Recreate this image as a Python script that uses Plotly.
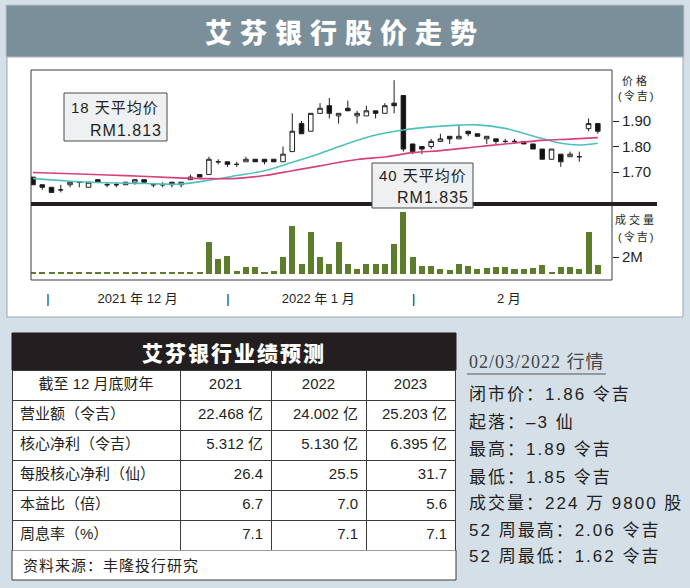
import plotly.graph_objects as go

W, H = 690, 588
FONT = "Liberation Sans, Noto Sans CJK SC, sans-serif"
CJK = "Noto Sans CJK SC, Liberation Sans, sans-serif"

# daily candles (62 trading days up to 02/03/2022)
opens = [1.68, 1.65, 1.64, 1.63, 1.65, 1.66, 1.64, 1.67, 1.65, 1.65,
         1.65, 1.66, 1.67, 1.65, 1.65, 1.66, 1.65, 1.67, 1.69, 1.69,
         1.74, 1.74, 1.73, 1.74, 1.75, 1.75, 1.75, 1.74, 1.78, 1.89,
         1.86, 1.93, 1.96, 1.92, 1.95, 1.92, 1.92, 1.94, 1.93, 1.97,
         2.00, 1.81, 1.80, 1.80, 1.82, 1.84, 1.83, 1.86, 1.85, 1.83,
         1.83, 1.82, 1.82, 1.82, 1.81, 1.79, 1.75, 1.77, 1.76, 1.76,
         1.87, 1.89]
highs = [1.68, 1.65, 1.64, 1.65, 1.66, 1.66, 1.66, 1.67, 1.66, 1.66,
         1.66, 1.67, 1.67, 1.65, 1.66, 1.66, 1.66, 1.69, 1.69, 1.76,
         1.75, 1.74, 1.74, 1.76, 1.75, 1.75, 1.75, 1.80, 1.93, 1.90,
         1.93, 1.97, 1.99, 1.93, 1.98, 1.94, 1.96, 1.94, 1.97, 2.06,
         2.00, 1.81, 1.80, 1.83, 1.85, 1.84, 1.88, 1.86, 1.85, 1.84,
         1.83, 1.83, 1.83, 1.82, 1.81, 1.79, 1.79, 1.77, 1.78, 1.78,
         1.91, 1.89]
lows = [1.65, 1.63, 1.62, 1.62, 1.64, 1.64, 1.64, 1.66, 1.64, 1.64,
        1.65, 1.65, 1.66, 1.64, 1.64, 1.64, 1.64, 1.67, 1.68, 1.69,
        1.73, 1.72, 1.72, 1.74, 1.74, 1.73, 1.74, 1.74, 1.78, 1.85,
        1.86, 1.93, 1.91, 1.89, 1.94, 1.89, 1.92, 1.91, 1.93, 1.93,
        1.78, 1.77, 1.77, 1.79, 1.82, 1.81, 1.83, 1.84, 1.84, 1.81,
        1.81, 1.81, 1.81, 1.81, 1.79, 1.75, 1.75, 1.72, 1.76, 1.74,
        1.86, 1.85]
closes = [1.65, 1.64, 1.62, 1.63, 1.66, 1.66, 1.66, 1.66, 1.65, 1.65,
          1.66, 1.67, 1.66, 1.65, 1.65, 1.65, 1.66, 1.68, 1.68, 1.75,
          1.74, 1.73, 1.73, 1.75, 1.74, 1.74, 1.74, 1.77, 1.86, 1.85,
          1.93, 1.95, 1.93, 1.93, 1.94, 1.93, 1.94, 1.93, 1.96, 1.96,
          1.79, 1.78, 1.79, 1.82, 1.83, 1.83, 1.84, 1.85, 1.84, 1.84,
          1.82, 1.82, 1.82, 1.81, 1.79, 1.75, 1.79, 1.74, 1.77, 1.76,
          1.89, 1.86]
# volume, millions of shares
volume = [0.18, 0.18, 0.18, 0.12, 0.24, 0.18, 0.18, 0.12, 0.18, 0.12,
          0.29, 0.18, 0.18, 0.12, 0.18, 0.29, 0.18, 0.18, 0.18, 3.73,
          1.76, 2.08, 0.32, 0.86, 0.79, 0.20, 0.32, 2.03, 5.65, 1.18,
          4.94, 1.96, 1.18, 3.73, 1.14, 0.55, 1.18, 1.18, 1.18, 3.49,
          7.29, 1.96, 0.94, 0.94, 0.55, 0.44, 1.14, 0.94, 0.55, 0.74,
          0.86, 0.86, 0.59, 0.59, 0.67, 1.02, 0.27, 0.79, 0.79, 0.55,
          4.90, 1.02]
days = list(range(len(closes)))

# moving averages
ma18_days = [0, 4, 8, 12, 16, 19, 22, 25, 28, 31, 34, 37, 40, 43, 46, 48, 51, 54, 57, 59, 61]
ma18 = [1.675, 1.664, 1.658, 1.655, 1.653, 1.668, 1.686, 1.705, 1.738, 1.773, 1.812,
        1.845, 1.865, 1.877, 1.884, 1.885, 1.871, 1.841, 1.813, 1.806, 1.813]
ma40_days = [0, 5, 10, 15, 19, 22, 25, 28, 31, 35, 38, 41, 44, 48, 51, 55, 58, 61]
ma40 = [1.698, 1.692, 1.686, 1.678, 1.674, 1.675, 1.686, 1.705, 1.724, 1.749, 1.759,
        1.776, 1.784, 1.799, 1.810, 1.824, 1.829, 1.835]

price_ticks = [1.70, 1.80, 1.90]
month_pos = [1.6, 11.3, 21.06, 30.8, 41.1, 51.4]
month_text = ["|", "2021 年 12 月", "|", "2022 年 1 月", "|", "2 月"]

# forecast table
years = ["2021", "2022", "2023"]
metrics = ["营业额（令吉）", "核心净利（令吉）", "每股核心净利（仙）", "本益比（倍）", "周息率（%）"]
fy2021 = ["22.468 亿", "5.312 亿", "26.4", "6.7", "7.1"]
fy2022 = ["24.002 亿", "5.130 亿", "25.5", "7.0", "7.1"]
fy2023 = ["25.203 亿", "6.395 亿", "31.7", "5.6", "7.1"]

quote_lines = ["闭市价：1.86 令吉", "起落：–3 仙", "最高：1.89 令吉", "最低：1.85 令吉",
               "成交量：224 万 9800 股", "52 周最高：2.06 令吉", "52 周最低：1.62 令吉"]


def px(x):
    return x / W


def py(y):
    return 1 - y / H


def rect(x0, y0, x1, y1, fill="rgba(0,0,0,0)", line="rgba(0,0,0,0)", lw=1, layer="below"):
    return dict(type="rect", xref="paper", yref="paper", x0=px(x0), x1=px(x1), y0=py(y1), y1=py(y0),
                fillcolor=fill, line=dict(color=line, width=lw), layer=layer)


def note(x, y, text, size=15, xa="left", color="#231f20", family=FONT, weight="normal"):
    return dict(x=px(x), y=py(y), xref="paper", yref="paper", text=text, showarrow=False,
                xanchor=xa, yanchor="middle",
                font=dict(size=size, color=color, family=family, weight=weight))


def spaced(t, sp):
    return f"<span style='letter-spacing:{sp}px'>{t}</span>"


fig = go.Figure()
fig.add_trace(go.Candlestick(
    x=days, open=opens, high=highs, low=lows, close=closes,
    increasing=dict(line=dict(color="#231f20", width=1), fillcolor="#ffffff"),
    decreasing=dict(line=dict(color="#231f20", width=1), fillcolor="#111111"),
    xaxis="x", yaxis="y", showlegend=False, hoverinfo="skip",
))
fig.add_trace(go.Scatter(x=ma18_days, y=ma18, mode="lines", line=dict(color="#4fc0c0", width=1.6, shape="spline"),
                         xaxis="x", yaxis="y", showlegend=False))
fig.add_trace(go.Scatter(x=ma40_days, y=ma40, mode="lines", line=dict(color="#d8407b", width=1.6, shape="spline"),
                         xaxis="x", yaxis="y", showlegend=False))
fig.add_trace(go.Bar(x=days, y=volume, width=0.65, marker=dict(color="#5c7e2c", line=dict(width=0)),
                     xaxis="x2", yaxis="y2", showlegend=False))

fig.add_trace(go.Table(
    domain=dict(x=[px(12), px(456)], y=[py(551), py(370)]),
    columnwidth=[168, 91, 95, 89],
    header=dict(values=["截至 12 月底财年"] + years, align="center", height=30,
                fill_color="#ffffff", line=dict(color="#3a3a3a", width=1),
                font=dict(size=15, color="#231f20", family=FONT)),
    cells=dict(values=[metrics, fy2021, fy2022, fy2023], align=["left", "right", "right", "right"], height=30,
               fill_color="#ffffff", line=dict(color="#3a3a3a", width=1),
               font=dict(size=15, color="#231f20", family=FONT)),
))

xr = [-0.216, 62.53]
fig.update_layout(
    width=W, height=H, margin=dict(l=0, r=0, t=0, b=0),
    paper_bgcolor="#d4dfe8", plot_bgcolor="rgba(0,0,0,0)",
    font=dict(family=FONT, color="#231f20"), bargap=0,
    xaxis=dict(domain=[px(31), px(612)], range=xr, anchor="y", showticklabels=False, showgrid=False,
               zeroline=False, rangeslider=dict(visible=False), ticks=""),
    yaxis=dict(domain=[py(202), py(70)], range=[1.5824, 2.10], anchor="x", side="right",
               tickvals=price_ticks, ticktext=[f"{v:.2f}" for v in price_ticks],
               ticks="outside", ticklen=6, tickcolor="#231f20", showgrid=False, zeroline=False,
               tickfont=dict(size=15, color="#231f20")),
    xaxis2=dict(domain=[px(31), px(612)], range=xr, anchor="y2", showgrid=False, zeroline=False,
                tickvals=month_pos, ticktext=month_text, ticks="", ticklabelstandoff=9,
                tickfont=dict(size=13, color="#231f20")),
    yaxis2=dict(domain=[py(280), py(206)], range=[-0.706, 8.0], anchor="x2", side="right",
                tickvals=[2], ticktext=["2M"], ticks="outside", ticklen=6, tickcolor="#231f20",
                showgrid=False, zeroline=False, tickfont=dict(size=15, color="#231f20")),
)

shapes = [
    rect(6, 5, 684, 57, fill="#7b8f9b", line="#b8c5ce"),
    rect(7, 57, 683, 317, fill="#ffffff", line="#9aa9b3"),
    rect(31, 70, 612, 280, line="#3a3a3a", lw=1, layer="above"),
    dict(type="line", xref="paper", yref="paper", x0=px(31), x1=px(657), y0=py(204), y1=py(204),
         line=dict(color="#231f20", width=4), layer="above"),
    rect(64, 93, 167, 141, fill="#eef0f2", line="#4a4a4a", layer="above"),
    rect(372, 163, 473, 208, fill="#eef0f2", line="#4a4a4a", layer="above"),
    rect(12, 333, 456, 370, fill="#231f20", line="#231f20"),
    rect(12, 550, 456, 580, fill="#ffffff", line="#3a3a3a"),
    dict(type="line", xref="paper", yref="paper", x0=px(467), x1=px(606), y0=py(374), y1=py(374),
         line=dict(color="#555555", width=1)),
]

anns = [
    note(345, 31, spaced("艾芬银行股价走势", 8), size=27, xa="center", color="#ffffff", family=CJK, weight=900),
    note(69, 107, spaced("18 天平均价", 1), size=15),
    note(164, 130, spaced("RM1.813", 1), size=16, xa="right"),
    note(377, 175, spaced("40 天平均价", 1), size=15),
    note(471, 197, spaced("RM1.835", 1), size=16, xa="right"),
    note(636, 80, spaced("价格", 3), size=11, xa="center"),
    note(636, 96, spaced("(令吉)", 2), size=11, xa="center"),
    note(636, 219, spaced("成交量", 3), size=11, xa="center"),
    note(636, 236, spaced("(令吉)", 2), size=11, xa="center"),
    note(234, 352, spaced("艾芬银行业绩预测", 2), size=21, xa="center", color="#ffffff", family=CJK, weight=900),
    note(21, 565, spaced("资料来源：丰隆投行研究", 1), size=15),
    note(467, 362, spaced("02/03/2022 行情", 1), size=18, color="#444444",
         family="Liberation Serif, Noto Sans CJK SC, serif"),
]
quote_y = [394, 422, 449, 477, 503, 530, 556]
for yy, t in zip(quote_y, quote_lines):
    anns.append(note(467, yy, spaced(t, 2), size=17))

fig.update_layout(shapes=shapes, annotations=anns)
fig.write_html("out.html", config={"displayModeBar": False},
               post_script="document.body.style.margin='0';")
